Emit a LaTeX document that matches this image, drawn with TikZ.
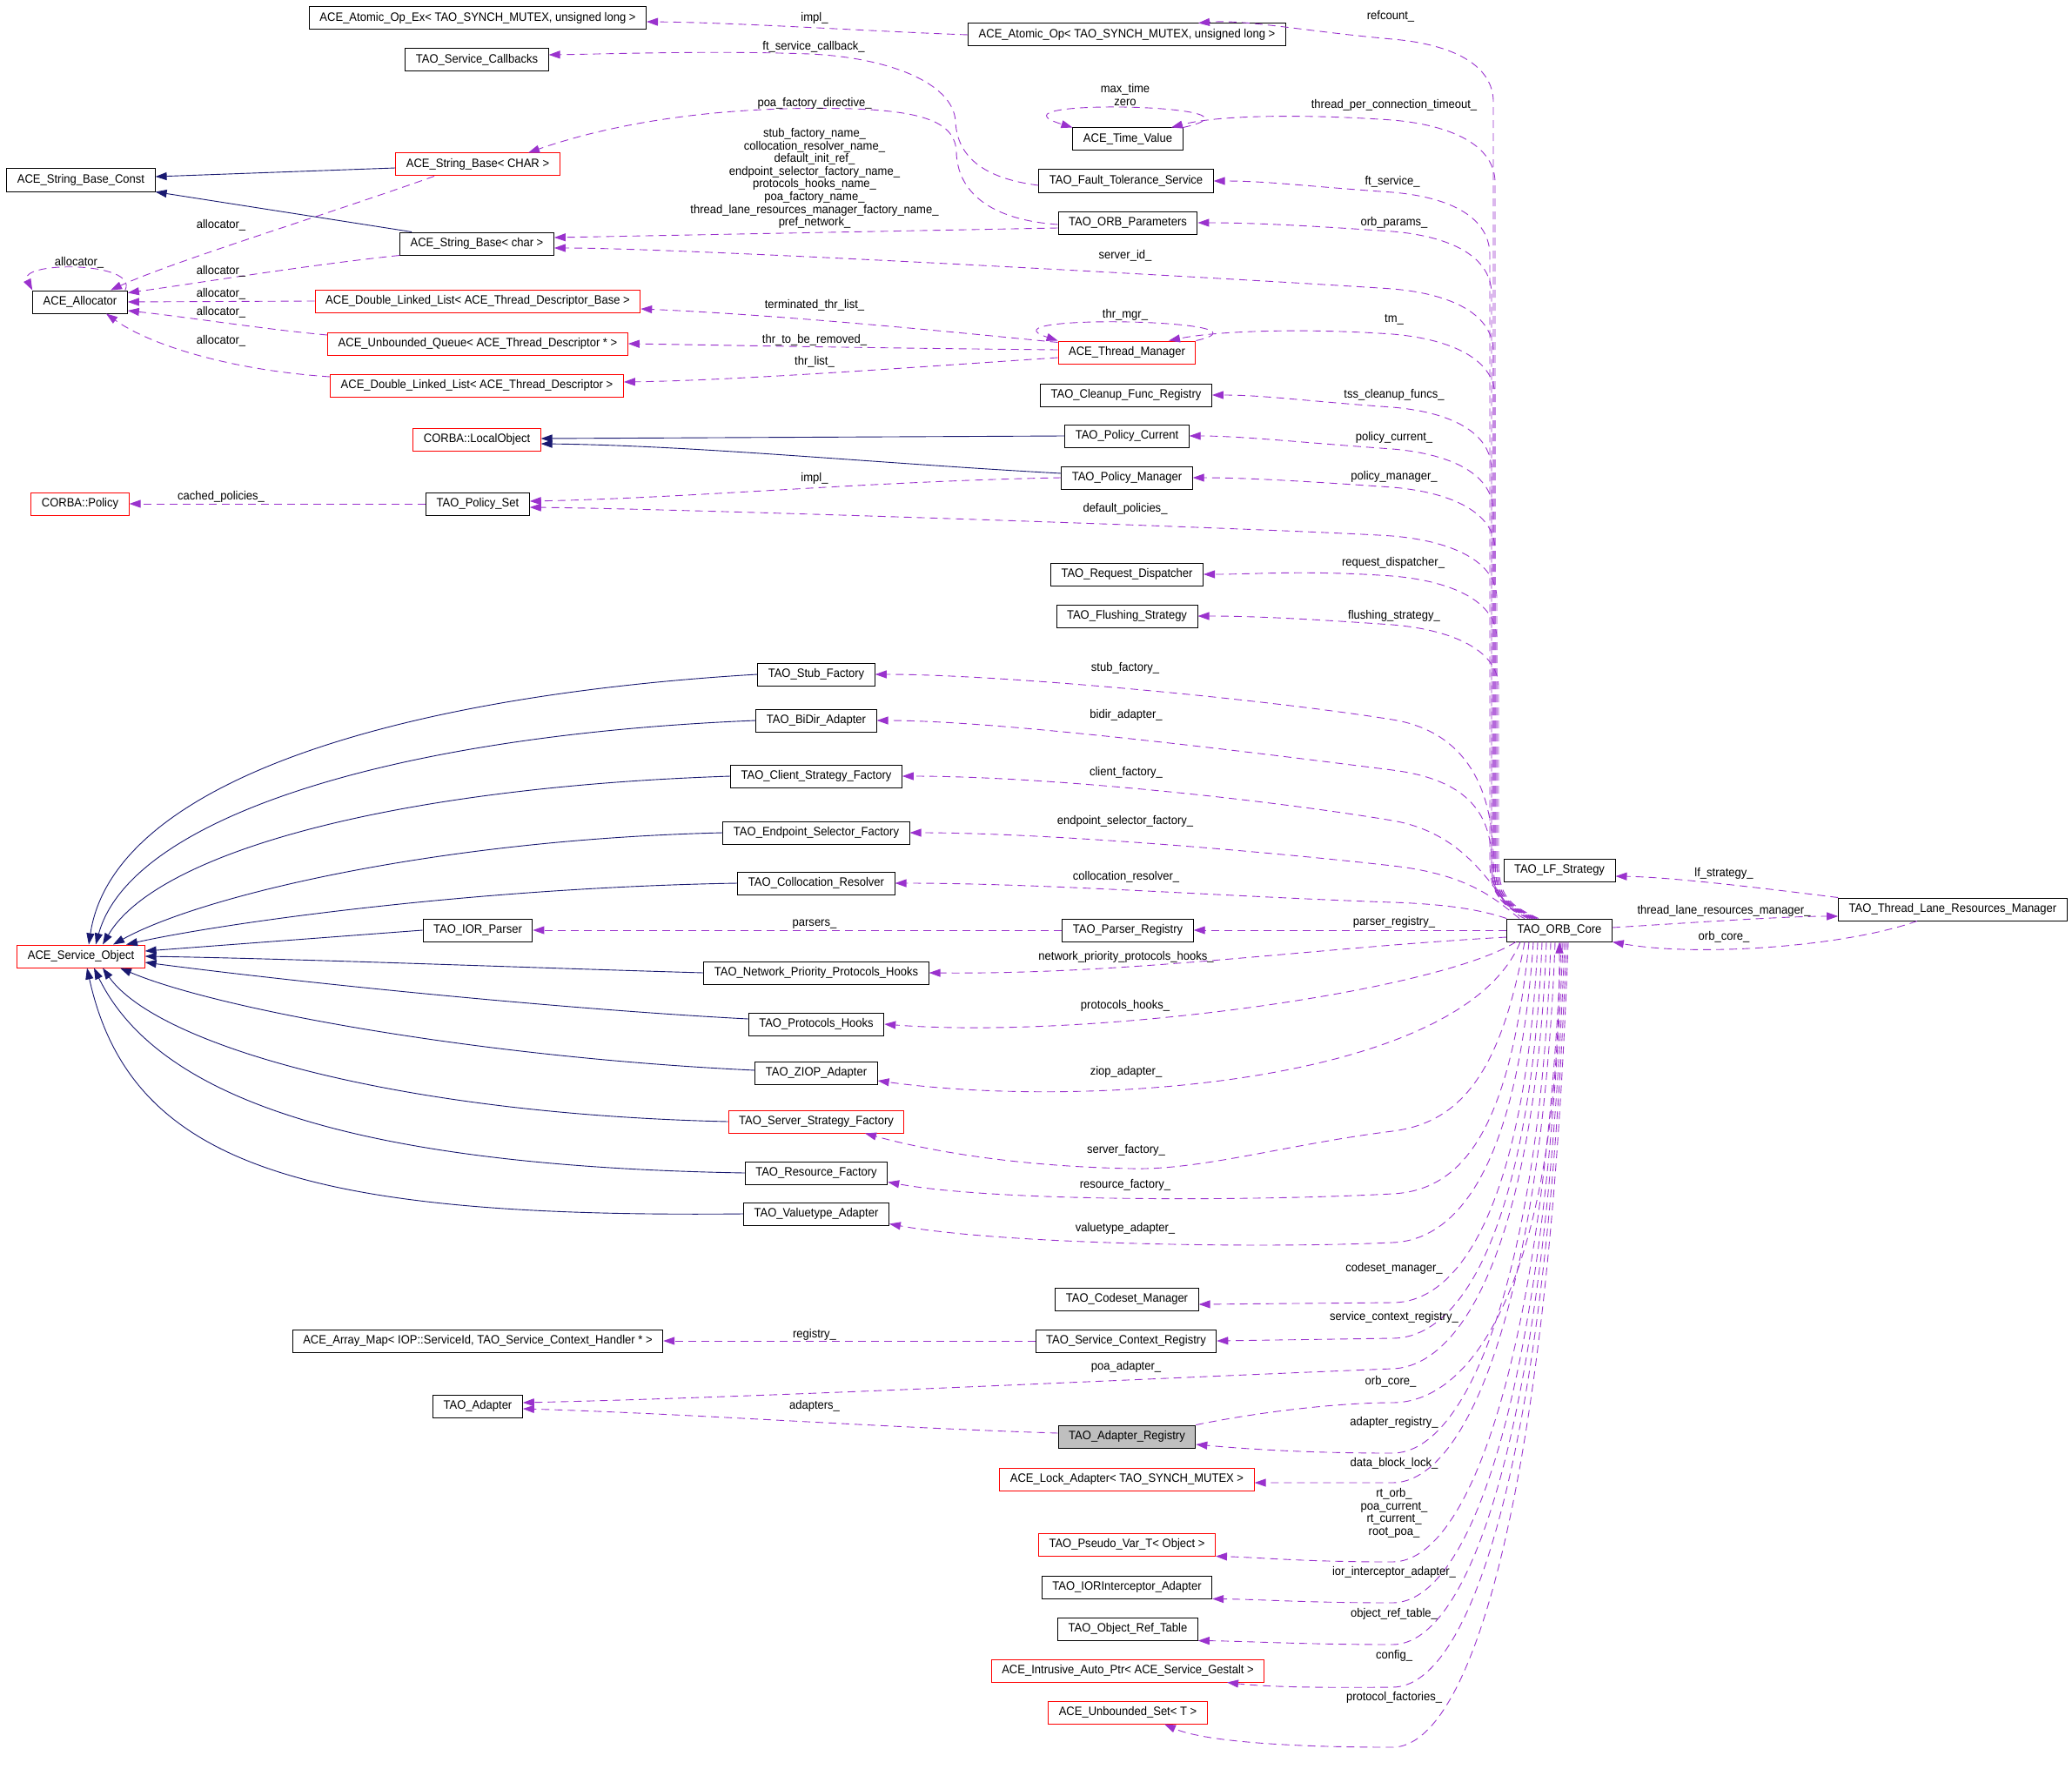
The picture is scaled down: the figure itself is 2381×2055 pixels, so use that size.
\documentclass[tikz,border=0pt]{standalone}
\usepackage{fontspec}
\setmainfont{Liberation Sans}[FakeStretch=0.93]
\usetikzlibrary{arrows.meta}

\definecolor{usepurple}{HTML}{9A32CD}
\definecolor{inhblue}{HTML}{191970}
\definecolor{focusgray}{HTML}{BFBFBF}

\tikzset{
  cls/.style={draw=black, line width=1pt, minimum height=26pt, inner xsep=12pt, inner ysep=0pt},
  redcls/.style={cls, draw=red},
  usage/.style={draw=usepurple, line width=0.9pt, dash pattern=on 9pt off 6pt, -{Triangle[length=13pt,width=9pt]}},
  inherit/.style={draw=inhblue, line width=0.9pt, -{Triangle[length=13pt,width=9pt]}},
  lbl/.style={inner sep=0pt}
}

\begin{document}
\begin{tikzpicture}[x=1pt,y=-1pt,font=\fontsize{14}{14.6}\selectfont]
\useasboundingbox (0,0) rectangle (2381,2055);

% classes, left part
\node[cls] (atomicex) at (549,21) {ACE\_Atomic\_Op\_Ex< TAO\_SYNCH\_MUTEX, unsigned long >};
\node[cls] (svccb) at (548,69) {TAO\_Service\_Callbacks};
\node[redcls] (strchar) at (549,189) {ACE\_String\_Base< CHAR >};
\node[cls] (strconst) at (93,207) {ACE\_String\_Base\_Const};
\node[cls] (strbase) at (548,280) {ACE\_String\_Base< char >};
\node[cls] (alloc) at (92,347) {ACE\_Allocator};
\node[redcls] (dllbase) at (549,346) {ACE\_Double\_Linked\_List< ACE\_Thread\_Descriptor\_Base >};
\node[redcls] (uqueue) at (549,395) {ACE\_Unbounded\_Queue< ACE\_Thread\_Descriptor * >};
\node[redcls] (dll) at (548,443) {ACE\_Double\_Linked\_List< ACE\_Thread\_Descriptor >};
\node[redcls] (localobj) at (548,505) {CORBA::LocalObject};
\node[redcls] (policy) at (92,579) {CORBA::Policy};
\node[cls] (polset) at (549,579) {TAO\_Policy\_Set};
\node[cls] (iorparser) at (549,1069) {TAO\_IOR\_Parser};
\node[redcls] (svcobj) at (93,1099) {ACE\_Service\_Object};
\node[cls] (arraymap) at (549,1541) {ACE\_Array\_Map< IOP::ServiceId, TAO\_Service\_Context\_Handler * >};
\node[cls] (adapter) at (549,1616) {TAO\_Adapter};

% classes, middle part
\node[cls] (stubf) at (938,775) {TAO\_Stub\_Factory};
\node[cls] (bidir) at (938,828) {TAO\_BiDir\_Adapter};
\node[cls] (clientf) at (938,892) {TAO\_Client\_Strategy\_Factory};
\node[cls] (endpointf) at (938,957) {TAO\_Endpoint\_Selector\_Factory};
\node[cls] (colloc) at (938,1015) {TAO\_Collocation\_Resolver};
\node[cls] (npph) at (938,1118) {TAO\_Network\_Priority\_Protocols\_Hooks};
\node[cls] (prothooks) at (938,1177) {TAO\_Protocols\_Hooks};
\node[cls] (ziop) at (938,1233) {TAO\_ZIOP\_Adapter};
\node[redcls] (serverf) at (938,1289) {TAO\_Server\_Strategy\_Factory};
\node[cls] (resf) at (938,1348) {TAO\_Resource\_Factory};
\node[cls] (valuetype) at (938,1395) {TAO\_Valuetype\_Adapter};

% classes, right of middle
\node[cls] (atomic) at (1295,40) {ACE\_Atomic\_Op< TAO\_SYNCH\_MUTEX, unsigned long >};
\node[cls] (timeval) at (1296,160) {ACE\_Time\_Value};
\node[cls] (ftsvc) at (1294,208) {TAO\_Fault\_Tolerance\_Service};
\node[cls] (orbparams) at (1296,256) {TAO\_ORB\_Parameters};
\node[redcls] (thrmgr) at (1295,405) {ACE\_Thread\_Manager};
\node[cls] (cleanup) at (1294,454) {TAO\_Cleanup\_Func\_Registry};
\node[cls] (polcur) at (1295,501) {TAO\_Policy\_Current};
\node[cls] (polmgr) at (1295,549) {TAO\_Policy\_Manager};
\node[cls] (reqdisp) at (1295,660) {TAO\_Request\_Dispatcher};
\node[cls] (flush) at (1295,708) {TAO\_Flushing\_Strategy};
\node[cls] (parserreg) at (1296,1069) {TAO\_Parser\_Registry};
\node[cls] (codeset) at (1295,1493) {TAO\_Codeset\_Manager};
\node[cls] (scr) at (1294,1541) {TAO\_Service\_Context\_Registry};
\node[cls, fill=focusgray] (adreg) at (1295,1651) {TAO\_Adapter\_Registry};
\node[redcls] (lockad) at (1295,1700) {ACE\_Lock\_Adapter< TAO\_SYNCH\_MUTEX >};
\node[redcls] (pseudo) at (1295,1775) {TAO\_Pseudo\_Var\_T< Object >};
\node[cls] (iorint) at (1295,1824) {TAO\_IORInterceptor\_Adapter};
\node[cls] (objref) at (1296,1872) {TAO\_Object\_Ref\_Table};
\node[redcls] (autoptr) at (1296,1920) {ACE\_Intrusive\_Auto\_Ptr< ACE\_Service\_Gestalt >};
\node[redcls] (uset) at (1296,1968) {ACE\_Unbounded\_Set< T >};

% classes, right part
\node[cls] (lfstrat) at (1792,1000) {TAO\_LF\_Strategy};
\node[cls] (orb) at (1792,1069) {TAO\_ORB\_Core};
\node[cls] (tlrm) at (2244,1045) {TAO\_Thread\_Lane\_Resources\_Manager};

% inheritance
\draw[inherit] ([yshift=-4pt]strchar.west) -- ([yshift=4pt]strconst.east);
\draw[inherit] ([xshift=14pt]strbase.north west) -- (strconst.south east);
\draw[inherit] (polcur.west) -- ([yshift=1pt]localobj.east);
\draw[inherit] ([yshift=5pt]polmgr.west) .. controls (1000,532) and (800,512) .. ([yshift=-5pt]localobj.east);
\draw[inherit] (stubf.west) .. controls (450,800) and (130,900) .. ([xshift=9pt]svcobj.north);
\draw[inherit] (bidir.west) .. controls (450,845) and (150,940) .. ([xshift=17pt]svcobj.north);
\draw[inherit] (clientf.west) .. controls (450,905) and (180,980) .. ([xshift=25pt]svcobj.north);
\draw[inherit] (endpointf.west) .. controls (500,965) and (230,1030) .. ([xshift=37pt]svcobj.north);
\draw[inherit] (colloc.west) .. controls (550,1020) and (260,1060) .. ([xshift=52pt]svcobj.north);
\draw[inherit] (iorparser.west) -- ([yshift=6pt]svcobj.east);
\draw[inherit] (npph.west) .. controls (600,1112) and (350,1102) .. (svcobj.east);
\draw[inherit] ([yshift=6pt]prothooks.west) .. controls (650,1160) and (350,1130) .. ([yshift=-7pt]svcobj.east);
\draw[inherit] ([yshift=3pt]ziop.west) .. controls (550,1215) and (250,1160) .. ([xshift=45pt]svcobj.south);
\draw[inherit] (serverf.west) .. controls (450,1280) and (180,1200) .. ([xshift=25pt]svcobj.south);
\draw[inherit] (resf.west) .. controls (400,1340) and (180,1260) .. ([xshift=15pt]svcobj.south);
\draw[inherit] (valuetype.west) .. controls (350,1400) and (150,1340) .. ([xshift=7pt]svcobj.south);

% members, left part
\draw[usage] (atomic.west) .. controls (1000,36) and (850,26) .. ([yshift=-4pt]atomicex.east);
\draw[usage] ([yshift=-5pt]ftsvc.west) .. controls (1130,205) and (1100,180) .. (1098,140) .. controls (1096,95) and (1020,66) .. (930,62) .. controls (820,58) and (700,62) .. ([yshift=6pt]svccb.east);
\draw[usage] ([yshift=-2pt]orbparams.west) .. controls (1130,252) and (1100,215) .. (1099,175) .. controls (1098,140) and (1060,128) .. (980,125) .. controls (800,120) and (680,150) .. ([xshift=58pt]strchar.north);
\draw[usage] ([yshift=-6pt]orbparams.west) -- ([yshift=7pt]strbase.east);
\draw[usage] ([xshift=-50pt]strchar.south) .. controls (380,245) and (200,300) .. ([xshift=35pt]alloc.north);
\draw[usage] ([xshift=-3pt]alloc.north east) .. controls (160,300) and (20,300) .. (alloc.north west);
\draw[usage] (strbase.south west) .. controls (350,305) and (230,325) .. ([yshift=-3pt]alloc.north east);
\draw[usage] (dllbase.west) -- (alloc.east);
\draw[usage] ([yshift=10pt]uqueue.west) .. controls (300,378) and (220,365) .. ([yshift=-10pt]alloc.east);
\draw[usage] ([yshift=10pt]dll.west) .. controls (260,425) and (170,395) .. ([xshift=30pt]alloc.south);
\draw[usage] (timeval.north east) .. controls (1480,120) and (1120,112) .. (timeval.north west);
\draw[usage] (thrmgr.north east) .. controls (1480,367) and (1120,360) .. (thrmgr.north west);
\draw[usage] ([yshift=-2pt]thrmgr.north west) .. controls (1100,382) and (900,362) .. ([yshift=-9pt]dllbase.east);
\draw[usage] ([yshift=3pt]thrmgr.west) .. controls (1000,400) and (850,397) .. (uqueue.east);
\draw[usage] ([yshift=-6pt]thrmgr.west) .. controls (1050,422) and (850,437) .. ([yshift=4pt]dll.east);
\draw[usage] (polmgr.west) .. controls (1000,553) and (800,572) .. ([yshift=3pt]polset.east);
\draw[usage] (polset.west) -- (policy.east);
\draw[usage] (parserreg.west) -- (iorparser.east);
\draw[usage] (scr.west) -- (arraymap.east);
\draw[usage] ([yshift=4pt]adreg.west) .. controls (1000,1640) and (800,1625) .. ([yshift=-3pt]adapter.east);

% members of TAO_ORB_Core, upward
\draw[usage] ([xshift=-30pt]orb.north) .. controls (1728,1040) and (1716,1030) .. (1716,990) -- (1716,115) .. controls (1714,70) and (1660,50) .. (1600,45) .. controls (1500,36) and (1430,22) .. ([xshift=82pt]atomic.north);
\draw[usage] ([xshift=-28pt]orb.north) .. controls (1730,1040) and (1718,1030) .. (1718,990) -- (1718,208) .. controls (1716,163) and (1660,143) .. (1600,138) .. controls (1500,131) and (1400,132) .. ([xshift=50pt]timeval.north);
\draw[usage] ([xshift=-32pt]orb.north) .. controls (1726,1040) and (1712,1030) .. (1712,990) -- (1712,291) .. controls (1710,246) and (1660,226) .. (1600,221) .. controls (1500,214) and (1456,208) .. (ftsvc.east);
\draw[usage] ([xshift=-26pt]orb.north) .. controls (1728,1040) and (1714,1030) .. (1714,990) -- (1714,336) .. controls (1712,291) and (1660,271) .. (1600,266) .. controls (1500,259) and (1437,256) .. (orbparams.east);
\draw[usage] ([xshift=-30pt]orb.north) .. controls (1728,1040) and (1716,1030) .. (1716,990) -- (1716,402) .. controls (1714,357) and (1660,337) .. (1600,332) .. controls (1500,325) and (800,285) .. ([yshift=-5pt]strbase.east);
\draw[usage] ([xshift=-28pt]orb.north) .. controls (1730,1040) and (1718,1030) .. (1718,990) -- (1718,454) .. controls (1716,409) and (1660,389) .. (1600,384) .. controls (1500,377) and (1400,380) .. ([xshift=48pt]thrmgr.north);
\draw[usage] ([xshift=-32pt]orb.north) .. controls (1726,1040) and (1714,1030) .. (1714,990) -- (1714,538) .. controls (1712,493) and (1660,473) .. (1600,468) .. controls (1500,461) and (1453,454) .. (cleanup.east);
\draw[usage] ([xshift=-30pt]orb.north) .. controls (1728,1040) and (1716,1030) .. (1716,990) -- (1716,586) .. controls (1714,541) and (1660,521) .. (1600,516) .. controls (1500,509) and (1427,501) .. (polcur.east);
\draw[usage] ([xshift=-28pt]orb.north) .. controls (1730,1040) and (1718,1030) .. (1718,990) -- (1718,630) .. controls (1716,585) and (1660,565) .. (1600,560) .. controls (1500,553) and (1431,549) .. (polmgr.east);
\draw[usage] ([xshift=-26pt]orb.north) .. controls (1732,1040) and (1720,1030) .. (1720,990) -- (1720,686) .. controls (1718,641) and (1660,621) .. (1600,616) .. controls (1500,609) and (800,585) .. ([yshift=-4pt]polset.east);
\draw[usage] ([xshift=-26pt]orb.north) .. controls (1732,1040) and (1720,1030) .. (1720,990) -- (1720,732) .. controls (1718,687) and (1660,667) .. (1600,662) .. controls (1500,655) and (1444,660) .. (reqdisp.east);
\draw[usage] ([xshift=-24pt]orb.north) .. controls (1734,1040) and (1722,1030) .. (1722,990) -- (1722,788) .. controls (1720,743) and (1660,723) .. (1600,718) .. controls (1500,711) and (1438,708) .. (flush.east);
\draw[usage] ([xshift=-34pt]orb.north) .. controls (1726,1040) and (1716,1030) .. (1716,990) .. controls (1716,900) and (1680,840) .. (1600,827) .. controls (1450,803) and (1150,775) .. (stubf.east);
\draw[usage] ([xshift=-36pt]orb.north) .. controls (1724,1040) and (1714,1030) .. (1714,990) .. controls (1714,930) and (1680,895) .. (1600,885) .. controls (1450,866) and (1150,828) .. (bidir.east);
\draw[usage] ([xshift=-40pt]orb.north) .. controls (1722,1045) and (1700,960) .. (1600,943) .. controls (1450,918) and (1200,892) .. (clientf.east);
\draw[usage] ([xshift=-46pt]orb.north) .. controls (1720,1035) and (1690,1005) .. (1600,995) .. controls (1450,978) and (1200,957) .. (endpointf.east);
\draw[usage] (orb.north west) .. controls (1700,1045) and (1660,1039) .. (1600,1037) .. controls (1400,1030) and (1200,1015) .. (colloc.east);

% members of TAO_ORB_Core, level and downward
\draw[usage] (orb.west) -- (parserreg.east);
\draw[usage] ([yshift=-8pt]orb.west) .. controls (1500,1090) and (1300,1120) .. (npph.east);
\draw[usage] ([xshift=-50pt]orb.south) .. controls (1650,1140) and (1250,1195) .. (prothooks.east);
\draw[usage] ([xshift=-45pt]orb.south) .. controls (1680,1245) and (1250,1275) .. ([yshift=-9pt]ziop.east);
\draw[usage] ([xshift=-40pt]orb.south) .. controls (1725,1230) and (1680,1290) .. (1600,1300) .. controls (1480,1315) and (1380,1345) .. (1300,1343) .. controls (1150,1340) and (1050,1318) .. ([xshift=56pt]serverf.south);
\draw[usage] ([xshift=-35pt]orb.south) .. controls (1735,1300) and (1680,1368) .. (1600,1372) .. controls (1450,1380) and (1150,1382) .. ([yshift=3pt]resf.south east);
\draw[usage] ([xshift=-30pt]orb.south) .. controls (1745,1330) and (1680,1425) .. (1600,1428) .. controls (1450,1435) and (1150,1430) .. ([yshift=2pt]valuetype.south east);
\draw[usage] ([xshift=-25pt]orb.south) .. controls (1755,1350) and (1690,1497) .. (1600,1497) -- ([yshift=-6pt]codeset.east);
\draw[usage] ([xshift=-20pt]orb.south) .. controls (1760,1380) and (1690,1538) .. (1600,1538) -- (scr.east);
\draw[usage] ([xshift=-15pt]orb.south) .. controls (1765,1400) and (1690,1570) .. (1600,1573) .. controls (1300,1585) and (900,1605) .. ([yshift=4pt]adapter.east);
\draw[usage] (adreg.north east) .. controls (1450,1622) and (1540,1612) .. (1600,1612) .. controls (1700,1612) and (1792,1450) .. (orb.south);
\draw[usage] ([xshift=-10pt]orb.south) .. controls (1770,1450) and (1690,1670) .. (1600,1670) .. controls (1500,1670) and (1430,1665) .. ([yshift=-9pt]adreg.east);
\draw[usage] ([xshift=-5pt]orb.south) .. controls (1772,1480) and (1690,1704) .. (1600,1704) -- ([yshift=-4pt]lockad.east);
\draw[usage] ([xshift=2pt]orb.south) .. controls (1775,1550) and (1690,1795) .. (1600,1795) .. controls (1500,1795) and (1450,1790) .. (pseudo.south east);
\draw[usage] ([xshift=4pt]orb.south) .. controls (1776,1600) and (1690,1842) .. (1600,1842) .. controls (1500,1842) and (1450,1838) .. (iorint.south east);
\draw[usage] ([xshift=6pt]orb.south) .. controls (1777,1640) and (1690,1890) .. (1600,1890) .. controls (1500,1890) and (1430,1886) .. (objref.south east);
\draw[usage] ([xshift=8pt]orb.south) .. controls (1778,1680) and (1690,1939) .. (1600,1939) .. controls (1500,1940) and (1450,1938) .. ([xshift=114pt]autoptr.south);
\draw[usage] ([xshift=10pt]orb.south) .. controls (1779,1720) and (1690,2008) .. (1600,2008) .. controls (1470,2008) and (1380,2000) .. ([xshift=42pt]uset.south);

% thread lane resources manager
\draw[usage] ([yshift=3pt]orb.east) .. controls (1950,1060) and (2050,1053) .. ([yshift=-8pt]tlrm.west);
\draw[usage] ([xshift=-41pt]tlrm.south) .. controls (2120,1088) and (1950,1100) .. (orb.south east);
\draw[usage] (tlrm.north west) .. controls (2020,1020) and (1920,1008) .. ([yshift=-7pt]lfstrat.east);

% member names
\node[lbl] (lImplAtomic) at (936,21) {impl\_};
\node[lbl] (lRefcount) at (1598,19) {refcount\_};
\node[lbl] (lFtCallback) at (935,54) {ft\_service\_callback\_};
\node[lbl, align=center] (lTimeSelf) at (1293,109) {max\_time\\zero};
\node[lbl] (lTpct) at (1602,121) {thread\_per\_connection\_timeout\_};
\node[lbl] (lPoaDir) at (936,119) {poa\_factory\_directive\_};
\node[lbl, align=center] (lStrNames) at (936,205) {stub\_factory\_name\_\\collocation\_resolver\_name\_\\default\_init\_ref\_\\endpoint\_selector\_factory\_name\_\\protocols\_hooks\_name\_\\poa\_factory\_name\_\\thread\_lane\_resources\_manager\_factory\_name\_\\pref\_network\_};
\node[lbl] (lFtService) at (1600,209) {ft\_service\_};
\node[lbl] (lOrbParams) at (1602,256) {orb\_params\_};
\node[lbl] (lAllocChar) at (254,259) {allocator\_};
\node[lbl] (lServerId) at (1293,294) {server\_id\_};
\node[lbl] (lAllocSelf) at (91,302) {allocator\_};
\node[lbl] (lAllocStr) at (254,312) {allocator\_};
\node[lbl] (lAllocDllb) at (254,338) {allocator\_};
\node[lbl] (lTermThr) at (936,351) {terminated\_thr\_list\_};
\node[lbl] (lAllocUq) at (254,359) {allocator\_};
\node[lbl] (lThrMgr) at (1293,362) {thr\_mgr\_};
\node[lbl] (lTm) at (1602,367) {tm\_};
\node[lbl] (lAllocDll) at (254,392) {allocator\_};
\node[lbl] (lThrRemoved) at (936,391) {thr\_to\_be\_removed\_};
\node[lbl] (lThrList) at (936,416) {thr\_list\_};
\node[lbl] (lTss) at (1602,454) {tss\_cleanup\_funcs\_};
\node[lbl] (lPolCur) at (1602,503) {policy\_current\_};
\node[lbl] (lPolMgr) at (1602,548) {policy\_manager\_};
\node[lbl] (lImplPol) at (936,550) {impl\_};
\node[lbl] (lCached) at (254,571) {cached\_policies\_};
\node[lbl] (lDefPol) at (1293,585) {default\_policies\_};
\node[lbl] (lReqDisp) at (1601,647) {request\_dispatcher\_};
\node[lbl] (lFlush) at (1602,708) {flushing\_strategy\_};
\node[lbl] (lStub) at (1293,768) {stub\_factory\_};
\node[lbl] (lBidir) at (1294,822) {bidir\_adapter\_};
\node[lbl] (lClient) at (1294,888) {client\_factory\_};
\node[lbl] (lEndpoint) at (1293,944) {endpoint\_selector\_factory\_};
\node[lbl] (lColloc) at (1294,1008) {collocation\_resolver\_};
\node[lbl] (lLf) at (1981,1004) {lf\_strategy\_};
\node[lbl] (lTlrm) at (1981,1047) {thread\_lane\_resources\_manager\_};
\node[lbl] (lOrbCoreTl) at (1981,1077) {orb\_core\_};
\node[lbl] (lParsers) at (936,1062) {parsers\_};
\node[lbl] (lParserReg) at (1602,1060) {parser\_registry\_};
\node[lbl] (lNpph) at (1294,1100) {network\_priority\_protocols\_hooks\_};
\node[lbl] (lProtHooks) at (1293,1156) {protocols\_hooks\_};
\node[lbl] (lZiop) at (1294,1232) {ziop\_adapter\_};
\node[lbl] (lServerF) at (1294,1322) {server\_factory\_};
\node[lbl] (lResF) at (1293,1362) {resource\_factory\_};
\node[lbl] (lValuetype) at (1293,1412) {valuetype\_adapter\_};
\node[lbl] (lCodeset) at (1602,1458) {codeset\_manager\_};
\node[lbl] (lScr) at (1602,1514) {service\_context\_registry\_};
\node[lbl] (lRegistry) at (936,1534) {registry\_};
\node[lbl] (lPoaAd) at (1294,1571) {poa\_adapter\_};
\node[lbl] (lOrbCoreAd) at (1598,1588) {orb\_core\_};
\node[lbl] (lAdapters) at (936,1616) {adapters\_};
\node[lbl] (lAdReg) at (1602,1635) {adapter\_registry\_};
\node[lbl] (lDataLock) at (1602,1682) {data\_block\_lock\_};
\node[lbl, align=center] (lPseudo) at (1602,1739) {rt\_orb\_\\poa\_current\_\\rt\_current\_\\root\_poa\_};
\node[lbl] (lIorInt) at (1602,1807) {ior\_interceptor\_adapter\_};
\node[lbl] (lObjRef) at (1602,1855) {object\_ref\_table\_};
\node[lbl] (lConfig) at (1602,1903) {config\_};
\node[lbl] (lProtFact) at (1602,1951) {protocol\_factories\_};
\end{tikzpicture}
\end{document}
